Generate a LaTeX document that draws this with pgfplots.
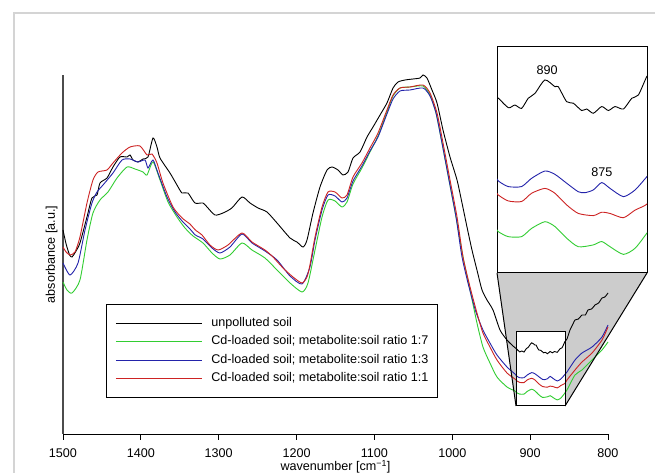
\documentclass[12pt,border=0pt]{standalone}
\usepackage{fontspec}
\setmainfont{Liberation Sans}
\usepackage{pgfplots}
\usepackage{pgfplotstable}
\pgfplotsset{compat=1.18}
\definecolor{cgreen}{RGB}{50,205,50}
\definecolor{cblue}{RGB}{35,35,170}
\definecolor{cred}{RGB}{205,35,35}

\pgfplotstableread{
wn y
1500 204
1496 190
1491.5 179
1488.4 177
1484 182
1478.2 191
1469.2 217
1462.8 236
1456.3 239
1452.5 251
1443.5 256
1435.8 267
1426.8 277
1417.8 277
1413.9 279
1410.1 274
1403.7 272
1397.2 275
1390.8 277
1384.4 296
1379.3 287
1375.4 276
1362.6 261
1353.6 249
1347.2 241
1339.5 241
1330.5 231
1320.2 231
1315.0 227
1304.8 219
1294.5 221
1283.1 226
1270.1 237
1259.8 231
1249.5 226
1238.0 222
1225.1 211
1208.4 196
1199.5 192
1191.7 187
1186.6 194
1178.9 221
1169.9 247
1160.9 264
1154.5 267
1146.8 264
1140.4 259
1133.9 262
1127.5 276
1118.5 282
1109.5 297
1101.8 307
1092.8 319
1083.9 331
1076.1 346
1069.7 352
1060.7 354
1050.5 355
1041.5 356
1037.6 359
1032.5 356
1026.1 344
1019.6 331
1011.9 304
1002.9 277
993.9 254
987.5 231
981.1 207
974.7 184
968.3 164
961.8 144
955.4 134
947.7 124
938.7 104
929.7 94
922.0 88
917.6 85.2
913.4 82.1
910.7 83.0
907.9 81.9
905.1 85.2
902.3 86.8
898.1 91.2
893.9 89.0
892.5 89.0
889.0 84.1
886.2 83.6
882.7 81.2
880.6 81.7
877.8 80.3
874.3 82.5
871.5 81.2
868.7 82.5
865.2 81.7
861.7 85.2
858.9 86.3
855.4 92.3
852.7 95
848.8 104
845 110
842.4 114
838 115
833.4 119
829 119
825.7 124
821 125
816.7 129
812 131
807.7 136
804 137
800 141
}\tblk

\pgfplotstableread{
wn y
1500 152
1494.9 144
1488.4 141
1478.2 154
1469.2 194
1461.5 221
1452.5 234
1442.2 242
1430.6 256
1417.8 267
1407.5 265
1397.2 262
1392.1 259
1384.4 272
1375.4 254
1365.1 232
1353.6 217
1343.3 206
1333.0 198
1320.2 191
1308.6 181
1298.4 175
1285.5 179
1270.1 191
1257.3 184
1240.6 176
1225.1 164
1208.4 151
1193.0 142
1185.3 151
1176.3 184
1167.3 217
1159.6 234
1150.6 233
1141.7 227
1135.2 232
1127.5 250
1116.0 266
1105.7 282
1095.4 298
1083.9 322
1076.1 338
1067.2 346
1054.3 347
1037.6 348
1028.6 339
1020.9 321
1013.2 291
1004.2 254
995.2 217
986.2 177
977.2 144
968.3 111
960.6 87
951.6 71
942.6 57
929.7 47
919.5 43
917.6 41.5
913.5 39.9
907.9 39.9
903.7 42.6
898.1 44.8
893.9 43.2
889.0 39.4
884.1 36.6
877.8 37.2
874.3 38.3
870.8 36.6
865.2 34.1
860.3 36.1
855.4 41.0
852.7 44
842.4 59
833.4 64
820.5 74
807.7 84
800 92
}\tgrn

\pgfplotstableread{
wn y
1500 171
1491 159
1480.7 171
1471.7 204
1462.8 231
1456.3 242
1448.6 249
1435.8 261
1424.2 274
1413.9 275
1403.7 272
1394.7 274
1390.8 266
1384.4 274
1378.0 261
1366.4 237
1356.1 222
1345.9 212
1336.9 205
1330 199
1320.2 195
1308.6 186
1298.4 181
1285.5 187
1270.1 200
1257.3 191
1240.6 183
1225.1 174
1208.4 158
1193.0 150
1182.8 167
1176.3 194
1167.3 224
1159.6 239
1150.6 238
1141.7 232
1135.2 236
1127.5 253
1116.0 268
1105.7 283
1095.4 297
1083.9 320
1076.1 335
1067.2 343
1054.3 344
1037.6 346
1028.6 338
1020.9 321
1013.2 291
1004.2 254
995.2 217
987.5 177
978.5 147
969.6 122
960.6 104
951.6 91
942.6 79
929.7 67
919.5 60
917.6 58.1
913.5 56.3
907.9 56.3
903.7 59.0
898.1 61.4
893.9 60.3
889.0 57.4
884.1 54.6
881.3 54.3
877.8 55.2
874.3 57.6
870.8 55.7
865.2 53.0
860.3 55.2
855.4 59.5
852.7 62
842.4 74
833.4 81
820.5 87
807.7 97
800 109
}\tblu

\pgfplotstableread{
wn y
1500 187
1496 182
1491 179
1484.6 182
1478.2 197
1469.2 231
1461.5 254
1455.0 262
1443.5 264
1435.8 271
1424.2 281
1413.9 287
1401.1 288
1392.1 279
1385.7 280
1379.3 271
1371.6 251
1358.7 227
1347 216
1337 210
1330 204
1321.5 199
1311.2 189
1300.9 184
1288.1 189
1270.1 201
1257.3 192
1240.6 184
1230.3 177
1217.4 166
1204.6 157
1193.0 151
1186.6 157
1182.8 169
1176.3 197
1167.3 227
1159.6 242
1150.6 242
1141.7 236
1135.2 239
1127.5 257
1116.0 271
1105.7 286
1095.4 301
1083.9 324
1076.1 339
1067.2 346
1054.3 347
1037.6 349
1028.6 341
1019.6 321
1011.9 291
1002.9 254
993.9 217
986.2 177
977.2 147
968.3 121
960.6 101
951.6 87
942.6 74
929.7 61
919.5 55
917.6 53.5
913.5 51.6
907.9 51.4
903.7 54.1
898.1 55.7
893.9 54.1
889.0 50.3
884.1 47.5
877.8 46.8
874.3 47.9
870.8 47.5
865.2 46.1
860.3 48.6
855.4 50.5
852.7 54
842.4 64
833.4 72
820.5 81
807.7 94
800 107
}\tred

\begin{document}
\fontsize{12.6}{15}\selectfont
\begin{tikzpicture}
\useasboundingbox (0,0) rectangle (655pt,473pt);
\begin{scope}[x=1pt,y=-1pt,shift={(0pt,473pt)}]
\fill[white] (0,0) rectangle (655,473);
\draw[black!17, line width=1.4pt] (14,474) -- (14,13) -- (656,13);
\fill[black!20] (497,273) -- (647,273) -- (565,406) -- (516,406) -- cycle;
\fill[white] (516,332) rectangle (565,406);
\end{scope}

\begin{axis}[
  at={(63pt,39pt)}, anchor=south west,
  scale only axis, width=545pt, height=359pt,
  xmin=800, xmax=1500, x dir=reverse,
  ymin=0, ymax=359,
  clip=false,
  axis x line=bottom, axis y line=left,
  x axis line style={-, black, line width=0.9pt},
  y axis line style={-, black!70, line width=1.3pt},
  xtick={800,900,...,1500}, ytick=\empty,
  tick align=outside, major tick length=6pt,
  xtick style={black, line width=0.9pt},
  xticklabel style={yshift=-4pt},
  /pgf/number format/assume math mode=true,
  /pgf/number format/set thousands separator={},
  xlabel={wavenumber [cm\textsuperscript{−1}]},
  xlabel style={at={(axis description cs:0.5,0)}, anchor=base, yshift=-37pt},
  ylabel={absorbance [a.u.]},
  ylabel style={at={(axis description cs:-0.002,0.5)}, anchor=south},
  legend cell align=left,
  legend image code/.code={\draw[#1] (0pt,0pt) -- (86pt,0pt);},
  legend style={at={(axis description cs:0.0789,0.3621)}, anchor=north west,
    draw=black, line width=1pt, inner xsep=9pt, inner ysep=13pt,
    row sep=6.3pt, column sep=9pt,
    nodes={inner sep=0pt, text height=9pt, text depth=3pt}},
]
\addplot[black, line width=0.9pt, smooth, tension=0.4] table {\tblk};
\addplot[cgreen, line width=0.9pt, smooth, tension=0.4] table {\tgrn};
\addplot[cblue, line width=0.9pt, smooth, tension=0.4] table {\tblu};
\addplot[cred, line width=0.9pt, smooth, tension=0.4] table {\tred};
\legend{unpolluted soil, Cd-loaded soil; metabolite:soil ratio 1:7, Cd-loaded soil; metabolite:soil ratio 1:3, Cd-loaded soil; metabolite:soil ratio 1:1}
\end{axis}

\begin{scope}[x=1pt,y=-1pt,shift={(0pt,473pt)}]
\draw[black, line width=1pt] (516,332) rectangle (565,406);
\draw[black, line width=1pt] (497,273) -- (516,406) (647,273) -- (565,406);
\end{scope}

\begin{axis}[
  at={(497pt,200pt)}, anchor=south west,
  scale only axis, width=150pt, height=226pt,
  xmin=855.3, xmax=918.2, x dir=reverse,
  ymin=28, ymax=102,
  ticks=none,
  axis line style={black, line width=1pt},
  axis background/.style={fill=white},
]
\addplot[black, line width=0.9pt, smooth, tension=0.4] table {\tblk};
\addplot[cgreen, line width=0.9pt, smooth, tension=0.4] table {\tgrn};
\addplot[cblue, line width=0.9pt, smooth, tension=0.4] table {\tblu};
\addplot[cred, line width=0.9pt, smooth, tension=0.4] table {\tred};
\node at (axis cs:897.2,94.5) {890};
\node at (axis cs:874.2,61.1) {875};
\end{axis}
\end{tikzpicture}
\end{document}
